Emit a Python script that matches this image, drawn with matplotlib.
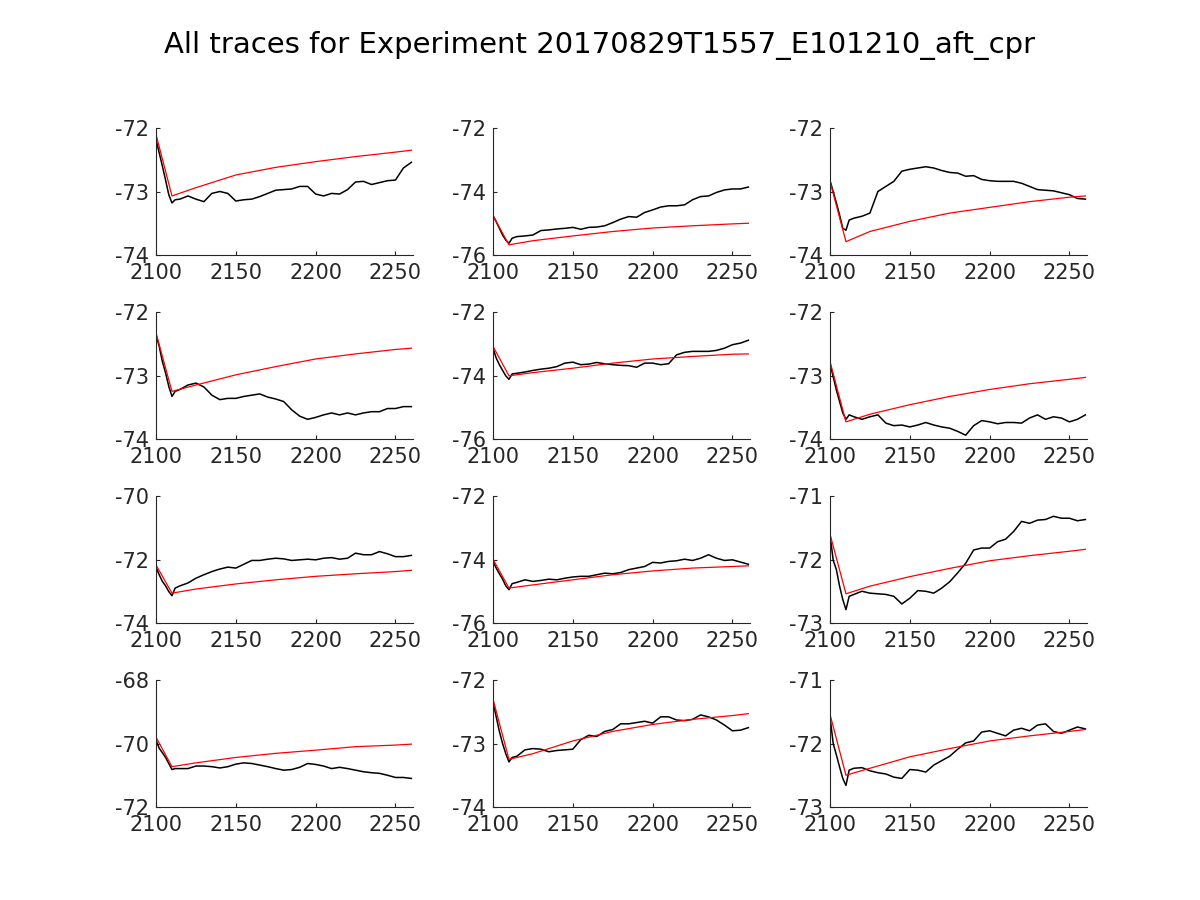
import matplotlib
matplotlib.use("Agg")
import matplotlib.pyplot as plt

plt.rcParams['font.family'] = 'DejaVu Sans'
plt.rcParams['axes.unicode_minus'] = False

title = "All traces for Experiment 20170829T1557_E101210_aft_cpr"

# sample positions
x_trace = [2100, 2102, 2104, 2106, 2108, 2110, 2112,
           2115, 2120, 2125, 2130, 2135, 2140, 2145, 2150, 2155, 2160,
           2165, 2170, 2175, 2180, 2185, 2190, 2195, 2200, 2205, 2210,
           2215, 2220, 2225, 2230, 2235, 2240, 2245, 2250, 2255, 2260]
x_fit = [2100, 2110, 2125, 2150, 2175, 2200, 2225, 2250, 2260]

trace1 = [-72.18, -72.39, -72.60, -72.82, -73.05, -73.18, -73.13,
          -73.12, -73.07, -73.12, -73.16, -73.03, -73.00, -73.03, -73.15, -73.13, -73.12,
          -73.08, -73.03, -72.98, -72.97, -72.96, -72.92, -72.92, -73.04, -73.07, -73.03,
          -73.04, -72.97, -72.85, -72.84, -72.89, -72.86, -72.83, -72.82, -72.63, -72.54]
trace2 = [-74.76, -74.95, -75.16, -75.37, -75.53, -75.63, -75.47,
          -75.42, -75.40, -75.37, -75.23, -75.21, -75.18, -75.16, -75.13, -75.19, -75.13,
          -75.12, -75.08, -74.98, -74.87, -74.79, -74.81, -74.66, -74.58, -74.49, -74.45,
          -74.45, -74.42, -74.26, -74.16, -74.14, -74.03, -73.95, -73.92, -73.92, -73.86]
trace3 = [-72.83, -73.00, -73.18, -73.37, -73.58, -73.61, -73.45,
          -73.42, -73.39, -73.34, -73.00, -72.92, -72.84, -72.68, -72.65, -72.63, -72.61,
          -72.63, -72.67, -72.70, -72.71, -72.76, -72.75, -72.81, -72.83, -72.84, -72.84,
          -72.84, -72.87, -72.92, -72.97, -72.98, -72.99, -73.02, -73.05, -73.11, -73.12]
trace4 = [-72.36, -72.54, -72.78, -72.96, -73.17, -73.33, -73.25,
          -73.22, -73.15, -73.12, -73.18, -73.31, -73.38, -73.36, -73.36, -73.33, -73.31,
          -73.29, -73.34, -73.37, -73.41, -73.54, -73.64, -73.69, -73.66, -73.62, -73.59,
          -73.62, -73.59, -73.62, -73.59, -73.57, -73.57, -73.52, -73.52, -73.49, -73.49]
trace5 = [-73.14, -73.45, -73.66, -73.84, -74.01, -74.12, -73.95,
          -73.93, -73.89, -73.84, -73.80, -73.77, -73.72, -73.61, -73.58, -73.66, -73.64,
          -73.59, -73.63, -73.66, -73.68, -73.69, -73.74, -73.61, -73.61, -73.66, -73.63,
          -73.35, -73.27, -73.24, -73.24, -73.24, -73.21, -73.14, -73.03, -72.98, -72.89]
trace6 = [-72.81, -73.02, -73.23, -73.41, -73.59, -73.69, -73.62,
          -73.65, -73.69, -73.65, -73.62, -73.75, -73.79, -73.78, -73.81, -73.78, -73.74,
          -73.78, -73.81, -73.83, -73.88, -73.94, -73.79, -73.71, -73.73, -73.76, -73.74,
          -73.74, -73.75, -73.67, -73.62, -73.69, -73.65, -73.67, -73.73, -73.69, -73.62]
trace7 = [-72.24, -72.48, -72.69, -72.83, -73.01, -73.14, -72.90,
          -72.83, -72.74, -72.59, -72.48, -72.38, -72.30, -72.24, -72.27, -72.15, -72.03,
          -72.03, -71.99, -71.96, -71.98, -72.03, -72.01, -71.99, -72.01, -71.96, -71.94,
          -71.99, -71.96, -71.80, -71.85, -71.85, -71.75, -71.82, -71.91, -71.91, -71.87]
trace8 = [-74.06, -74.27, -74.45, -74.62, -74.83, -74.95, -74.76,
          -74.72, -74.64, -74.69, -74.66, -74.62, -74.64, -74.59, -74.55, -74.53, -74.53,
          -74.48, -74.43, -74.45, -74.41, -74.32, -74.27, -74.22, -74.09, -74.11, -74.06,
          -74.04, -73.99, -74.03, -73.96, -73.85, -73.96, -74.03, -74.01, -74.08, -74.15]
trace9 = [-71.61, -72.01, -72.16, -72.42, -72.63, -72.79, -72.58,
          -72.55, -72.50, -72.53, -72.54, -72.55, -72.58, -72.70, -72.61, -72.49, -72.50,
          -72.53, -72.45, -72.35, -72.21, -72.06, -71.85, -71.82, -71.82, -71.72, -71.68,
          -71.56, -71.40, -71.43, -71.38, -71.37, -71.32, -71.35, -71.35, -71.39, -71.37]
trace10 = [-69.89, -70.15, -70.29, -70.44, -70.63, -70.82, -70.79,
           -70.79, -70.79, -70.71, -70.71, -70.73, -70.77, -70.73, -70.65, -70.61, -70.63,
           -70.68, -70.73, -70.79, -70.84, -70.82, -70.75, -70.63, -70.66, -70.71, -70.79,
           -70.75, -70.79, -70.84, -70.89, -70.92, -70.94, -71.00, -71.07, -71.07, -71.10]
trace11 = [-72.34, -72.58, -72.81, -73.00, -73.16, -73.29, -73.22,
           -73.20, -73.10, -73.08, -73.09, -73.13, -73.11, -73.10, -73.09, -72.94, -72.87,
           -72.89, -72.81, -72.78, -72.69, -72.69, -72.67, -72.65, -72.68, -72.58, -72.58,
           -72.63, -72.64, -72.62, -72.55, -72.58, -72.63, -72.71, -72.80, -72.79, -72.75]
trace12 = [-71.58, -72.00, -72.18, -72.37, -72.55, -72.66, -72.42,
           -72.39, -72.38, -72.43, -72.46, -72.48, -72.53, -72.55, -72.41, -72.42, -72.45,
           -72.34, -72.27, -72.20, -72.09, -71.99, -71.96, -71.82, -71.80, -71.84, -71.88,
           -71.79, -71.76, -71.80, -71.71, -71.69, -71.81, -71.84, -71.79, -71.74, -71.77]

fit1 = [-72.10, -73.07, -72.94, -72.74, -72.62, -72.53, -72.45, -72.38, -72.35]
fit2 = [-74.76, -75.68, -75.55, -75.40, -75.26, -75.15, -75.08, -75.02, -75.00]
fit3 = [-72.84, -73.79, -73.63, -73.47, -73.34, -73.25, -73.16, -73.09, -73.07]
fit4 = [-72.33, -73.25, -73.15, -72.99, -72.86, -72.74, -72.66, -72.59, -72.57]
fit5 = [-73.08, -74.01, -73.91, -73.77, -73.61, -73.48, -73.40, -73.33, -73.32]
fit6 = [-72.78, -73.73, -73.61, -73.46, -73.33, -73.22, -73.13, -73.06, -73.03]
fit7 = [-72.17, -73.06, -72.93, -72.77, -72.64, -72.53, -72.45, -72.38, -72.34]
fit8 = [-73.99, -74.90, -74.80, -74.64, -74.48, -74.36, -74.27, -74.22, -74.20]
fit9 = [-71.60, -72.54, -72.42, -72.27, -72.14, -72.02, -71.94, -71.87, -71.84]
fit10 = [-69.80, -70.73, -70.61, -70.44, -70.31, -70.21, -70.10, -70.05, -70.02]
fit11 = [-72.30, -73.25, -73.16, -72.96, -72.81, -72.70, -72.62, -72.56, -72.53]
fit12 = [-71.54, -72.50, -72.39, -72.21, -72.08, -71.96, -71.88, -71.81, -71.78]

ylims = [(-74, -72), (-76, -72), (-74, -72),
         (-74, -72), (-76, -72), (-74, -72),
         (-74, -70), (-76, -72), (-73, -71),
         (-72, -68), (-74, -72), (-73, -71)]
xticks = [2100, 2150, 2200, 2250]

traces = [trace1, trace2, trace3, trace4, trace5, trace6,
          trace7, trace8, trace9, trace10, trace11, trace12]
fits = [fit1, fit2, fit3, fit4, fit5, fit6,
        fit7, fit8, fit9, fit10, fit11, fit12]

fig = plt.figure(figsize=(12, 9), dpi=100)
fig.text(0.5, 1 - 45 / 900, title, ha='center', va='center', fontsize=21)

lefts = [156, 493, 830]
bottoms = [255, 439, 623, 807]
ax_w, ax_h = 257, 127
dark = '#262626'

for i in range(12):
    r, c = divmod(i, 3)
    ax = fig.add_axes([lefts[c] / 1200, 1 - bottoms[r] / 900, ax_w / 1200, ax_h / 900])
    ax.plot(x_trace, traces[i], color='black', lw=1.1)
    ax.plot(x_fit, fits[i], color='red', lw=0.9)
    lo, hi = ylims[i]
    ax.set_xlim(2100, 2261)
    ax.set_ylim(lo, hi)
    ax.set_xticks(xticks)
    ax.set_yticks([lo, (lo + hi) / 2, hi])
    ax.set_yticklabels([str(int(v)) for v in [lo, (lo + hi) / 2, hi]])
    ax.spines['top'].set_visible(False)
    ax.spines['right'].set_visible(False)
    for s in ['left', 'bottom']:
        ax.spines[s].set_color(dark)
        ax.spines[s].set_linewidth(0.8)
    ax.tick_params(direction='in', length=3, width=0.8, colors=dark,
                   labelsize=15, pad=5)
    ax.tick_params(axis='x', pad=6)

plt.savefig("out.png", dpi=100)
